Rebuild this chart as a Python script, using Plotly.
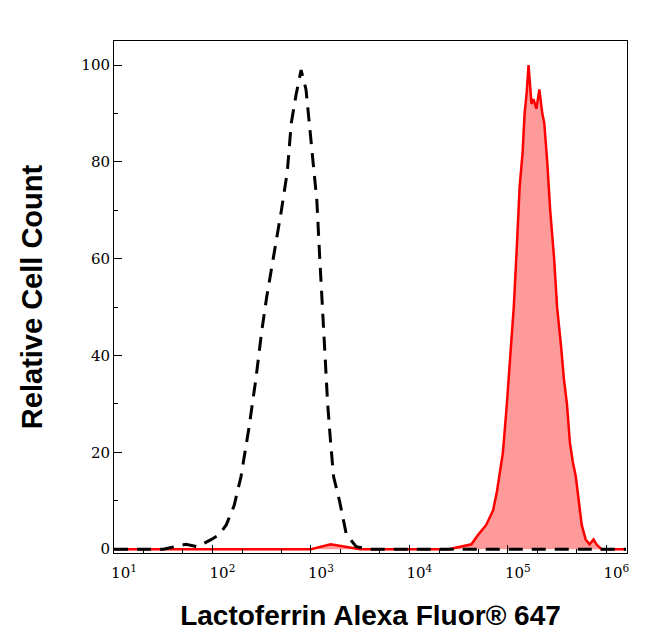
import plotly.graph_objects as go

iso_log = [1.0,1.5,1.73,1.85,1.99,2.07,2.14,2.22,2.29,2.37,2.44,2.50,2.55,2.62,2.70,2.76,2.80,2.85,2.90,2.95,3.02,3.06,3.09,3.13,3.17,3.20,3.23,3.29,3.36,3.46,3.6,4.0,5.0,6.2]
iso_val = [0,0,1,0.5,2,3,5,9,15,25,35,45,52,60,70,78,88,94,99,95,80,72,60,45,30,22,15,10,3,0.5,0,0,0,0]
red_log = [1.0,2.0,3.0,3.2,3.5,4.0,4.4,4.63,4.70,4.78,4.85,4.89,4.95,4.99,5.03,5.06,5.09,5.12,5.15,5.17,5.19,5.21,5.24,5.26,5.29,5.32,5.35,5.37,5.40,5.43,5.47,5.50,5.54,5.57,5.60,5.63,5.66,5.69,5.72,5.75,5.79,5.83,5.87,5.90,5.95,6.2]
red_val = [0,0,0,1,0,0,0,1,3,5,8,12,20,30,42,50,62,75,82,90,94,100,92,93,91,95,90,88,80,70,60,50,42,35,30,22,18,15,10,5,2,1,2,1,0,0]

fig = go.Figure()
fig.add_trace(go.Scatter(x=[10**v for v in red_log], y=red_val, mode="lines",
    line=dict(color="#ff0000", width=2.5), fill="tozeroy", fillcolor="#ff9a9a"))
fig.add_trace(go.Scatter(x=[10**v for v in iso_log], y=iso_val, mode="lines",
    line=dict(color="black", width=3, dash="14px,9px")))

tickfont = dict(family="DejaVu Serif", size=15, color="black")
fig.update_layout(
    width=646, height=641, showlegend=False,
    paper_bgcolor="white", plot_bgcolor="white",
    margin=dict(l=106, r=27, t=33, b=96),
    xaxis=dict(type="log", range=[1, 6.21], showgrid=False, zeroline=False,
        showline=True, linecolor="black", mirror=True, linewidth=1,
        ticks="inside", ticklen=8, tickcolor="black",
        tickvals=[10,100,1000,1e4,1e5,1e6],
        ticktext=["10<sup>1</sup>","10<sup>2</sup>","10<sup>3</sup>","10<sup>4</sup>","10<sup>5</sup>","10<sup>6</sup>"],
        ticklabelshift=10, ticklabelstandoff=6, automargin=False,
        minor=dict(ticks="inside", ticklen=4, tickcolor="black", showgrid=False),
        tickfont=tickfont,
        title=dict(text="<b>Lactoferrin Alexa Fluor® 647</b>", font=dict(family="Liberation Sans", size=28, color="black"), standoff=24)),
    yaxis=dict(range=[-0.8, 105], showgrid=False, zeroline=False,
        showline=True, linecolor="black", mirror=True, linewidth=1,
        ticks="inside", ticklen=8, tickcolor="black",
        tickvals=[0,20,40,60,80,100], automargin=False,
        minor=dict(ticks="inside", ticklen=4, tickcolor="black", dtick=10),
        tickfont=tickfont,
        title=dict(text="<b>Relative Cell Count</b>", font=dict(family="Liberation Sans", size=29, color="black"), standoff=30)),
)
fig.write_html("out.html")
